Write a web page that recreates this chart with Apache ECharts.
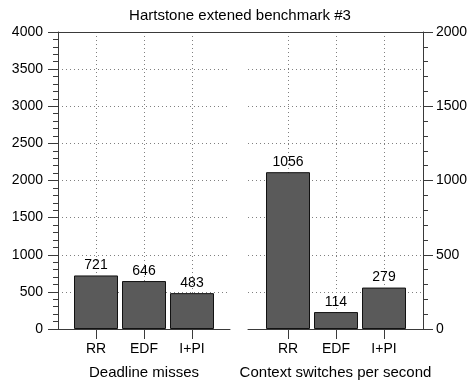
<!DOCTYPE html>
<html>
<head>
<meta charset="utf-8">
<script src="https://cdn.jsdelivr.net/npm/echarts@6/dist/echarts.min.js"></script>
<style>
  html, body { margin: 0; padding: 0; background: #fff; }
  #chart { width: 471px; height: 385px; }
</style>
</head>
<body>
<div id="chart"></div>
<script>
// Scheduling policies compared in both panels
const categories = ['RR', 'EDF', 'I+PI'];
// Left panel: deadline misses
const deadlineMisses = [721, 646, 483];
// Right panel: context switches per second
const contextSwitches = [1056, 114, 279];
// Value-axis ranges and label steps
const leftAxisMax = 4000;
const rightAxisMax = 2000;
const labelStep = 500;

const FONT = '"Liberation Sans", Arial, Helvetica, sans-serif';
const AXIS_COLOR = '#3a3a3a';
const GRID_DOTS = { type: [1, 3], color: '#808080', width: 1 };
const catPositions = categories.map((c, i) => i + 1);

// x axis laid out as a value scale so the frame can run past the outer bars
function policyAxis(gridIndex, min, max, name) {
  return {
    type: 'value', gridIndex, min, max,
    name, nameLocation: 'middle', nameGap: 36,
    nameTextStyle: { fontSize: 15, color: '#000', fontFamily: FONT },
    axisLine: { show: true, onZero: false, lineStyle: { color: AXIS_COLOR, width: 1 } },
    axisTick: { show: true, customValues: catPositions, length: 10, lineStyle: { color: AXIS_COLOR } },
    axisLabel: {
      customValues: catPositions,
      formatter: v => categories[Math.round(v) - 1] || '',
      fontSize: 14, color: '#000', margin: 13, fontFamily: FONT
    },
    splitLine: { show: true, lineStyle: GRID_DOTS }
  };
}

function countAxis(gridIndex, position, max, margin) {
  return {
    type: 'value', gridIndex, position, min: 0, max, interval: labelStep,
    axisLine: { show: true, lineStyle: { color: AXIS_COLOR, width: 1 } },
    axisTick: { show: true, length: 10, lineStyle: { color: AXIS_COLOR } },
    minorTick: { show: true, splitNumber: 5, length: 5, lineStyle: { color: AXIS_COLOR } },
    axisLabel: { fontSize: 14, color: '#000', margin, fontFamily: FONT, formatter: v => String(v) },
    splitLine: { show: false }
  };
}

const leftY = countAxis(0, 'left', leftAxisMax, 15);
leftY.splitLine = { show: true, lineStyle: GRID_DOTS };
const rightY = countAxis(1, 'right', rightAxisMax, 13);
// Hidden helper axis giving the right panel the same dotted rows as the left
const rightRows = {
  type: 'value', gridIndex: 1, position: 'right', min: 0, max: rightAxisMax, interval: labelStep / 2,
  axisLine: { show: false }, axisTick: { show: false }, axisLabel: { show: false },
  splitLine: { show: true, lineStyle: GRID_DOTS }
};

function barSeries(values, xAxisIndex, yAxisIndex) {
  return {
    type: 'bar', xAxisIndex, yAxisIndex,
    data: values.map((v, i) => [catPositions[i], v]),
    barWidth: 44,
    itemStyle: { color: '#5a5a5a', borderColor: '#111', borderWidth: 1 },
    label: { show: true, position: 'top', distance: 3, fontSize: 14, color: '#000', fontFamily: FONT,
             formatter: p => p.value[1] }
  };
}

const chart = echarts.init(document.getElementById('chart'), null, { renderer: 'canvas' });
chart.setOption({
  animation: false,
  backgroundColor: '#fff',
  title: {
    text: 'Hartstone extened benchmark #3',
    left: 240, top: 8, textAlign: 'center', padding: 0,
    textStyle: { fontSize: 15, fontWeight: 'normal', color: '#000', fontFamily: FONT }
  },
  grid: [
    { left: 58, top: 32, width: 172, height: 298 },
    { left: 248, top: 32, width: 175, height: 298 }
  ],
  xAxis: [
    policyAxis(0, 1 - 38 / 48, 3 + 38 / 48, 'Deadline misses'),
    policyAxis(1, 1 - 40 / 48, 3 + 39 / 48, 'Context switches per second')
  ],
  yAxis: [leftY, rightY, rightRows],
  series: [
    barSeries(deadlineMisses, 0, 0),
    barSeries(contextSwitches, 1, 1)
  ],
  graphic: [{
    type: 'line', z: 100,
    shape: { x1: 58, y1: 32.5, x2: 423, y2: 32.5 },
    style: { stroke: AXIS_COLOR, lineWidth: 1 }
  }]
});
</script>
</body>
</html>
